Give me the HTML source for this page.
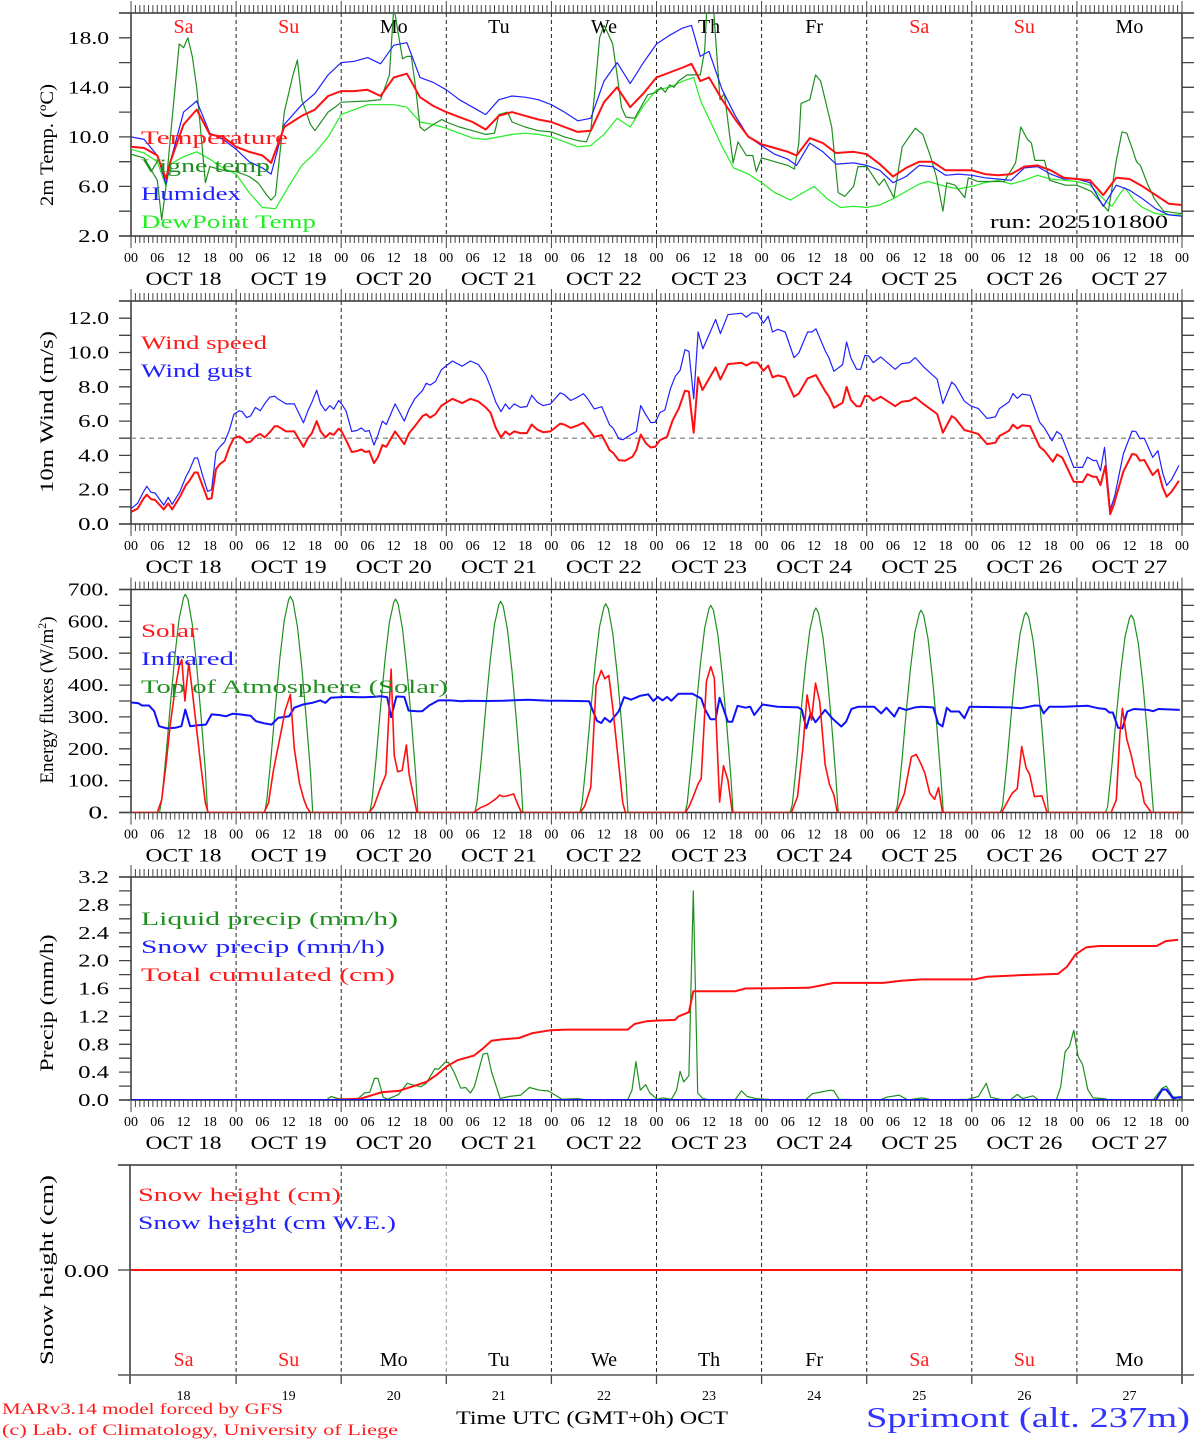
<!DOCTYPE html>
<html><head><meta charset="utf-8">
<style>
html,body{margin:0;padding:0;background:#fff;}
svg{display:block;font-family:"Liberation Serif","DejaVu Serif",serif;}
</style></head>
<body>
<svg id="chart" width="1194" height="1440" viewBox="0 0 1194 1440" xmlns="http://www.w3.org/2000/svg"></svg>
<script>
// ---------- DATA (hour since Oct 18 00 UTC, value) ----------
const days = ["18","19","20","21","22","23","24","25","26","27"];
const dayNames = ["Sa","Su","Mo","Tu","We","Th","Fr","Sa","Su","Mo"];
const hourTickLabels = ["00","06","12","18"];
const tempTicks = [2,6,10,14,18];
const windTicks = [0,2,4,6,8,10,12];
const energyTicks = [0,100,200,300,400,500,600,700];
const precipTicks = [0,0.4,0.8,1.2,1.6,2.0,2.4,2.8,3.2];

const temperature = [[0,9.2],[3,9.1],[6,8.5],[8,6.6],[9,8.0],[12,11.0],[15,12.2],[18,10.2],[21,10.0],[24,9.2],[27,8.8],[30,8.5],[32,7.9],[35,10.8],[39,11.7],[42,12.2],[45,13.3],[48,13.7],[51,13.7],[54,13.8],[57,13.3],[60,14.8],[63,15.1],[66,13.2],[69,12.5],[72,12.0],[75,11.6],[78,11.2],[81,10.6],[84,11.7],[87,12.0],[90,11.7],[93,11.4],[96,11.2],[99,10.8],[102,10.4],[105,10.5],[108,12.8],[111,14.0],[114,12.4],[117,13.5],[120,14.8],[123,15.2],[126,15.6],[128,15.9],[130,14.5],[132,14.8],[135,13.0],[138,11.4],[141,10.0],[144,9.4],[147,9.1],[150,8.8],[152,8.5],[155,9.9],[158,9.5],[161,8.7],[165,8.8],[168,8.6],[171,7.8],[174,6.8],[177,7.5],[180,8.0],[183,8.0],[186,7.3],[189,7.3],[192,7.3],[195,7.0],[198,6.9],[201,7.0],[204,7.6],[207,7.7],[210,7.3],[213,6.7],[216,6.6],[219,6.5],[222,5.3],[225,6.7],[228,6.6],[231,6.0],[234,5.3],[237,4.6],[240,4.5]];
const humidex = [[0,10.0],[3,9.8],[6,8.5],[8,6.2],[9,8.0],[12,12.0],[15,12.9],[18,10.3],[21,9.8],[24,9.0],[27,8.0],[30,7.5],[32,7.0],[35,11.0],[39,12.6],[42,13.5],[45,15.0],[48,16.0],[51,16.1],[54,16.4],[57,15.9],[60,17.4],[63,17.6],[66,14.8],[69,14.4],[72,13.8],[75,13.0],[78,12.4],[81,11.8],[84,13.0],[87,13.3],[90,13.2],[93,13.0],[96,12.6],[99,12.0],[102,11.3],[105,11.5],[108,14.5],[111,16.0],[114,14.3],[117,16.0],[120,17.5],[123,18.2],[126,18.8],[128,19.0],[130,16.5],[132,16.9],[135,13.8],[138,11.7],[141,10.0],[144,9.3],[147,8.6],[150,8.2],[152,7.7],[155,9.5],[158,8.8],[161,7.8],[165,7.9],[168,7.7],[171,7.3],[174,6.3],[177,6.8],[180,7.7],[183,7.6],[186,6.9],[189,7.0],[192,6.9],[195,6.7],[198,6.6],[201,6.5],[204,7.5],[207,7.6],[210,7.0],[213,6.6],[216,6.6],[219,6.3],[222,4.4],[225,6.1],[228,5.7],[231,5.0],[234,4.2],[237,3.7],[240,3.6]];
const vigneTemp = [[0,8.6],[3,8.3],[6,6.5],[7,3.3],[8,6.0],[9,10.0],[11,17.5],[12,17.2],[13,18.0],[14,16.5],[15,14.0],[17,6.3],[18,7.6],[21,7.3],[24,7.2],[27,6.8],[29,6.3],[31,5.3],[32,4.9],[33,5.3],[35,12.0],[37,15.0],[38,16.2],[39,13.0],[41,11.0],[42,10.5],[44,11.5],[45,12.0],[47,12.5],[48,12.8],[54,12.9],[57,13.0],[59,15.0],[60,20.5],[62,16.3],[63,16.5],[64,16.5],[65,14.0],[66,10.8],[67,10.5],[69,11.0],[71,11.4],[72,11.2],[75,10.8],[78,10.5],[81,10.2],[83,10.3],[84,11.8],[86,12.0],[87,11.2],[90,10.8],[93,10.5],[96,10.4],[99,10.0],[102,9.7],[104,9.6],[105,10.5],[106,14.0],[107,18.0],[108,19.0],[109,18.3],[110,17.5],[111,15.0],[112,12.4],[113,11.6],[115,11.5],[118,13.4],[120,13.6],[121,14.0],[122,13.6],[123,14.2],[124,14.0],[125,14.5],[127,15.0],[130,15.0],[131,17.0],[131.5,20.5],[133,20.5],[134.5,13.0],[135.5,13.5],[137.5,7.9],[138.6,9.6],[140.5,8.5],[142,8.5],[142.8,7.2],[144,8.3],[147,8.0],[150,7.7],[151.5,7.4],[152.5,9.5],[153,12.7],[155,13.0],[156.3,15.0],[157.5,14.5],[160,10.8],[161.5,5.5],[163,5.2],[165,6.0],[166,7.6],[168,7.6],[170.8,6.1],[172,6.6],[174.2,5.1],[176.1,9.2],[179.1,10.7],[180.8,10.2],[182.6,8.4],[183.9,6.8],[185.4,4.0],[186.3,6.3],[188.2,6.1],[190.4,5.1],[191.2,6.7],[193.4,6.4],[199.4,6.4],[202,7.9],[203.2,10.8],[204.7,9.8],[205.6,9.5],[206.4,8.1],[208.6,8.1],[209.8,6.5],[213.4,6.1],[216,6.1],[219.3,5.6],[223.2,4.0],[225,8.1],[226.3,10.4],[227.4,10.3],[228.5,9.2],[229.6,8.0],[230.5,7.7],[232,6.3],[233.7,5.0],[235.8,4.0],[240,3.8]];
const dewPoint = [[0,9.0],[3,8.7],[6,8.0],[8,6.0],[9,7.8],[12,8.4],[15,8.8],[18,8.2],[21,7.5],[24,7.0],[27,5.5],[30,4.3],[33,4.2],[36,6.0],[39,7.7],[42,8.7],[45,10.0],[48,11.8],[51,12.2],[54,12.6],[57,12.6],[60,12.6],[63,12.4],[66,11.2],[69,11.0],[72,10.7],[75,10.3],[78,9.9],[81,9.8],[84,10.0],[87,10.2],[90,10.3],[93,10.2],[96,10.0],[99,9.6],[102,9.2],[105,9.3],[108,10.2],[111,11.5],[114,10.8],[117,12.5],[120,13.8],[123,14.0],[126,14.5],[128.5,14.8],[130,13.0],[131,12.2],[135,9.2],[137.6,7.5],[141,7.0],[144,6.3],[147,5.5],[150.6,4.9],[153,5.4],[156,6.0],[159,5.0],[162,4.3],[165,4.4],[168,4.3],[171,4.5],[174,5.0],[177,5.6],[180,6.2],[182,6.4],[186,6.0],[189,5.8],[192,6.0],[195,6.3],[198,6.5],[201,6.2],[204,6.5],[207,6.9],[210,6.6],[213,6.5],[216,6.4],[219,6.1],[222,5.0],[224,4.4],[226,5.5],[227,5.9],[229,4.9],[231,4.3],[234,3.8],[237,3.7],[240,3.7]];

const windSpeed = [[0,0.7],[1.5,0.9],[2.9,1.5],[3.6,1.7],[4.6,1.45],[5.5,1.4],[7.5,0.85],[8.5,1.2],[9.4,0.85],[11.2,1.6],[12.6,2.3],[13.3,2.5],[14.5,3.0],[15.2,3.0],[16.4,2.2],[17.5,1.45],[18.4,1.5],[19.4,3.2],[20.3,3.5],[21.4,3.7],[22.5,4.5],[23.5,5.0],[24.7,5.1],[25.4,5.0],[26.4,4.75],[27.3,4.8],[28.4,5.1],[29.5,5.25],[30.5,5.05],[31.7,5.35],[32.8,5.7],[33.5,5.7],[35.4,5.4],[37.3,5.4],[39.4,4.5],[40.4,5.0],[41.3,5.3],[42.4,6.0],[43.3,5.4],[44.4,5.05],[45.4,5.3],[46.3,5.2],[47.4,5.55],[48.1,5.4],[49.1,4.9],[50.4,4.2],[51.6,4.25],[52.6,4.35],[53.5,4.2],[54.4,4.25],[55.5,3.55],[56.4,3.9],[57.4,4.6],[58.3,4.5],[60.3,5.4],[62.4,4.65],[63.5,5.3],[64.8,5.7],[66.6,6.3],[67.4,6.4],[68.3,6.2],[69.5,6.4],[70.9,6.9],[73.4,7.3],[75.6,7.05],[77.5,7.3],[79.3,7.15],[81,6.8],[82.1,6.5],[83.3,5.6],[84.5,5.05],[85.5,5.4],[86.4,5.2],[87.5,5.4],[88.9,5.3],[90.4,5.3],[91.5,5.8],[92.8,5.5],[94.1,5.35],[95.8,5.4],[98,5.85],[98.9,5.8],[100.4,5.6],[102,5.75],[103.3,5.9],[104.3,5.6],[105.8,5.08],[107.5,5.18],[109.3,4.3],[110.1,4.15],[111.4,3.72],[112.8,3.69],[114.5,3.92],[115.4,4.31],[116.4,5.22],[117.6,4.7],[118.7,4.46],[119.7,4.5],[120.8,4.89],[122.4,5.08],[123.7,6.05],[125.1,6.74],[126.5,7.77],[127.4,7.71],[128.5,5.32],[129.5,8.55],[130.5,7.81],[133.5,9.13],[134.6,8.43],[136.3,9.32],[139.4,9.4],[140.5,9.24],[141.8,9.42],[143.1,9.4],[144.4,8.93],[145.5,9.24],[146.5,8.55],[147.7,8.66],[149.4,8.55],[151.4,7.42],[152.5,7.61],[154.5,8.49],[156.4,8.68],[158.6,7.71],[159.4,7.42],[160.5,6.78],[162.5,7.07],[163.4,8.0],[164.4,7.22],[165.7,6.87],[166.6,6.87],[167.6,7.46],[168.4,7.46],[169.5,7.18],[171.2,7.42],[174.5,6.87],[176,7.13],[177.8,7.18],[179.1,7.38],[181,6.99],[184.1,6.41],[185.4,5.32],[187.4,6.29],[188.2,6.16],[190.3,5.48],[191.7,5.38],[193.5,5.24],[195.5,4.66],[197.4,4.74],[198.3,5.13],[200.5,5.44],[201.4,5.79],[202.4,5.57],[203.5,5.75],[205.3,5.71],[207.5,4.5],[208.6,4.27],[210.5,3.63],[211.5,4.06],[212.7,3.86],[215.3,2.46],[217.3,2.44],[218.4,2.91],[219.7,2.75],[220.5,2.75],[221.4,2.27],[222.5,3.39],[223.6,0.58],[224.4,1.11],[226.6,3.05],[228.6,4.08],[229.5,4.04],[230.4,3.69],[231.4,3.73],[233.3,2.85],[234.5,3.18],[235.6,2.13],[236.5,1.59],[237.6,1.88],[239.3,2.52]];
const windGust = [[0,0.9],[1.5,1.2],[2.9,1.9],[3.6,2.2],[4.6,1.85],[5.5,1.8],[7.5,1.1],[8.5,1.55],[9.4,1.15],[11.2,1.9],[12.6,2.8],[13.3,3.1],[14.5,3.85],[15.2,3.85],[16.4,2.8],[17.5,1.9],[18.4,2.0],[19.4,4.2],[20.3,4.5],[21.4,4.8],[22.5,5.5],[23.5,6.4],[24.7,6.6],[25.4,6.55],[26.4,6.2],[27.3,6.3],[28.4,6.8],[29.5,6.6],[30.5,7.0],[31.7,7.4],[32.8,7.45],[33.5,7.3],[35.4,7.0],[37.3,7.0],[39.4,5.9],[40.4,6.6],[41.3,7.1],[42.4,7.8],[43.3,7.0],[44.4,6.6],[45.4,6.9],[46.3,6.7],[47.4,7.2],[48.1,7.0],[49.1,6.6],[50.4,5.4],[51.6,5.45],[52.6,5.6],[53.5,5.4],[54.4,5.45],[55.5,4.6],[56.4,5.2],[57.4,6.0],[58.3,5.8],[60.3,7.0],[62.4,6.0],[63.5,6.7],[64.8,7.3],[66.6,7.8],[67.4,8.2],[68.3,8.1],[69.5,8.3],[70.9,9.0],[73.4,9.5],[75.6,9.2],[77.5,9.5],[79.3,9.3],[81,8.7],[82.1,8.0],[83.3,7.1],[84.5,6.55],[85.5,7.0],[86.4,6.7],[87.5,7.0],[88.9,6.8],[90.4,6.85],[91.5,7.5],[92.8,7.1],[94.1,6.9],[95.8,7.0],[98,7.65],[98.9,7.55],[100.4,7.2],[102,7.4],[103.3,7.6],[104.3,7.3],[105.8,6.71],[107.5,6.84],[109.3,5.78],[110.1,5.59],[111.4,4.97],[112.3,4.91],[114.1,5.2],[115.4,5.4],[116.4,6.9],[117.6,6.36],[118.7,5.91],[119.7,5.93],[120.8,6.5],[121.9,6.64],[123.2,7.9],[124.3,8.61],[125.4,8.96],[126.5,10.16],[127.4,10.06],[128.5,7.3],[129.5,11.19],[130.6,10.22],[133.5,11.92],[134.6,11.1],[136.3,12.2],[139.4,12.29],[140.5,12.06],[141.8,12.31],[143.1,12.29],[144.4,11.71],[145.5,12.12],[146.5,11.19],[147.7,11.35],[149.4,11.19],[151.4,9.7],[152.5,9.97],[154.5,11.19],[155.5,11.19],[156.4,11.38],[158.6,10.06],[159.4,9.68],[160.5,8.9],[162.5,9.29],[163.4,10.61],[164.4,9.68],[165.7,9.02],[166.6,9.02],[167.6,9.83],[168.4,9.8],[169.5,9.41],[171.2,9.74],[174.5,9.02],[176,9.35],[177.8,9.41],[179.1,9.7],[181,9.16],[184.1,8.44],[185.4,7.02],[187.4,8.28],[188.2,8.09],[190.3,7.16],[191.7,6.89],[193.5,6.73],[195.5,6.15],[197.4,6.25],[198.3,6.73],[200.5,7.12],[201.4,7.61],[202.4,7.32],[203.5,7.57],[205.3,7.5],[207.5,5.93],[208.6,5.59],[210.3,4.85],[211.4,5.39],[212.4,5.2],[215.3,3.3],[217.3,3.3],[218.4,3.9],[219.7,3.7],[220.5,3.7],[221.4,3.1],[222.3,4.47],[223.6,0.83],[224.6,1.6],[226.6,4.08],[228.6,5.42],[229.5,5.38],[230.4,4.97],[231.4,5.0],[233.3,3.88],[234.5,4.27],[235.6,2.97],[236.5,2.25],[237.6,2.58],[239.3,3.41]];

const solar = [[0,0],[6,0],[7,40],[8,150],[9,280],[10,380],[11,460],[11.6,480],[12.3,350],[13.2,470],[14,380],[15,260],[16,140],[17,30],[17.6,0],[30.4,0],[31.4,30],[32.5,130],[33.5,200],[34.5,270],[35.2,320],[36.4,370],[37.3,200],[38.5,90],[39.5,40],[40.2,15],[41,0],[54.4,0],[55.5,20],[56.9,75],[58.2,120],[59.4,450],[60.1,180],[60.9,128],[61.9,132],[62.9,212],[63.5,120],[65,20],[65.3,0],[78.2,0],[79.8,15],[81.5,25],[82.5,35],[83.5,45],[84.2,55],[85,50],[85.8,52],[87.4,58],[88.2,30],[89,5],[89.5,0],[102.6,0],[103.6,20],[105,80],[106.2,400],[107.4,446],[108.2,420],[109.1,430],[110,330],[111,200],[112.3,30],[112.9,0],[126.6,0],[127.5,20],[128.4,50],[129.5,90],[130.2,106],[131.4,411],[132.4,458],[133.2,422],[134.4,33],[135.3,147],[136.3,102],[137.3,0],[150.8,0],[152.2,50],[153.4,200],[154.4,369],[155.4,290],[156.3,406],[157.3,346],[158.5,151],[159.5,88],[160.5,55],[161.3,0],[174.8,0],[176.6,60],[178.2,175],[179.3,182],[180.3,155],[181.3,123],[182.4,60],[183.5,41],[184.4,78],[185.3,0],[198.8,0],[200,30],[201.2,60],[202.4,75],[203.4,207],[204.4,140],[205.2,120],[206.3,50],[208,52],[209.2,0],[223.8,0],[225,40],[225.8,243],[226.4,327],[227.4,230],[228.4,180],[229.5,112],[230.5,95],[231.4,30],[233,0],[240,0]];
const infrared = [[0,345],[0.5,345],[1.7,343],[2.5,336],[4.1,336],[5.3,318],[6.4,271],[8.2,264],[10.1,266],[11.5,271],[12.4,323],[13.5,271],[15.3,274],[17.1,276],[18.4,308],[20.1,306],[21.7,302],[23.2,310],[24.9,308],[27.3,304],[28.5,287],[30.4,280],[32.1,276],[33.6,297],[36.1,302],[37.3,329],[39.3,339],[41.3,344],[43.2,352],[44.4,344],[45.6,360],[48.9,363],[53,362],[55.4,363],[56.9,365],[58.5,362],[59.4,299],[60.6,364],[62.4,363],[63.4,320],[65.3,318],[66.5,318],[68.1,336],[70.2,352],[73,352],[75.4,349],[77,351],[81,350],[85,351],[90.6,354],[95.4,351],[98.6,351],[104.6,349],[106.4,288],[107.4,281],[108.2,297],[109.4,284],[111.4,318],[112.6,362],[114.2,354],[116.2,366],[118.1,371],[119.3,350],[120.3,363],[121.4,352],[122.4,363],[123.4,351],[125,373],[128.2,373],[130.2,358],[131,326],[132.3,293],[133.5,293],[134.4,360],[136.3,285],[137.3,285],[138.5,335],[140.3,329],[141.4,332],[142.3,306],[144.2,339],[147.6,332],[152.4,330],[153.2,322],[154.2,264],[155.2,311],[156.3,283],[158.5,322],[160.1,296],[162.2,270],[163.3,285],[164.5,325],[166.1,332],[169.7,332],[171.3,311],[172.5,329],[174.3,301],[175.4,329],[177,322],[179,330],[180.6,332],[183.2,330],[184.3,280],[185.3,270],[186.3,329],[187.2,317],[189.1,317],[190.3,296],[191.5,332],[196.9,331],[200.8,330],[203.2,327],[206.4,336],[207.6,335],[208.4,311],[209.7,332],[212.9,332],[218.5,335],[220.9,327],[222.5,325],[223.4,314],[224.2,314],[225.4,266],[226.4,264],[227.5,317],[229,325],[232.2,322],[233.4,318],[234.6,325],[239.5,322]];
const toaHours = [6.5,7,8,9,10,11,12,12.4,13,14,15,16,17,17.5];
const toaDay18 = [0,40,180,340,490,610,675,685,670,590,460,300,130,0];
const toaDay19 = [0,38,176,336,485,604,668,678,663,584,455,296,126,0];
const toaDay20 = [0,35,172,332,479,597,660,670,655,577,449,292,122,0];
const toaDay21 = [0,32,168,328,474,591,653,663,648,571,444,288,118,0];
const toaDay22 = [0,30,165,323,468,584,645,655,640,564,438,283,114,0];
const toaDay23 = [0,28,162,320,464,579,640,650,635,559,434,280,110,0];
const toaDay24 = [0,25,158,316,458,572,632,642,627,552,428,275,105,0];
const toaDay25 = [0,22,155,312,453,566,625,635,620,546,423,271,100,0];
const toaDay26 = [0,20,151,308,448,560,618,628,613,540,418,267,95,0];
const toaDay27 = [0,18,148,304,442,553,610,620,605,533,412,262,90,0];

const liquidPrecip = [[0,0],[44.6,0],[45.7,0.05],[47.3,0.02],[51.7,0.01],[53.3,0.1],[54.5,0.11],[55.6,0.31],[56.4,0.31],[57.6,0.04],[58.6,0.01],[61.1,0.08],[63.1,0.24],[64.2,0.22],[66.2,0.19],[67.4,0.24],[69.4,0.45],[70.2,0.44],[71.7,0.54],[72.5,0.54],[73.7,0.41],[75.3,0.17],[76.4,0.18],[77.5,0.1],[78.4,0.19],[80.4,0.66],[81.4,0.67],[82.3,0.41],[84.3,0.02],[86.3,0.05],[89,0.07],[91,0.18],[93.3,0.14],[95.3,0.13],[98.4,0.01],[102,0.02],[104,0],[113.4,0],[114.4,0.14],[115.3,0.55],[116.3,0.14],[117.5,0.22],[118.5,0.1],[120.2,0.01],[121.4,0.03],[123.4,0.01],[124.6,0.14],[125.4,0.41],[126.2,0.26],[127.4,0.35],[128.4,3.0],[129.4,0.1],[130.6,0.02],[132.3,0],[137.9,0],[139.4,0.13],[140.7,0.05],[142.7,0.02],[145.2,0.01],[147.6,0],[154,0],[155.6,0.09],[158,0.12],[159.7,0.14],[160.5,0.13],[161.7,0.01],[171,0],[172.6,0.04],[175.4,0.07],[177.4,0],[180.6,0.03],[183,0],[191.1,0.01],[193.5,0.05],[195.3,0.24],[196.3,0.04],[198.4,0.01],[200.8,0],[202.4,0.08],[203.6,0.02],[206,0.06],[207.2,0],[211.3,0],[212.3,0.19],[213.3,0.69],[214.3,0.77],[215.3,1.0],[216.3,0.62],[217.3,0.51],[218.5,0.15],[219.7,0.03],[222.2,0.02],[223.4,0],[233.4,0],[235.5,0.17],[236.4,0.2],[237.9,0.05],[239.1,0.03],[240,0]];
const snowPrecip = [[0,0],[234,0],[235.5,0.15],[236.4,0.15],[238,0.02],[239.1,0.04],[240,0.04]];
const totalCumulated = [[0,0],[45.4,0],[52.5,0.02],[57.2,0.11],[61.1,0.13],[65,0.21],[67.4,0.26],[69.8,0.36],[72.1,0.48],[74.5,0.57],[78.4,0.64],[80.4,0.74],[82.3,0.85],[84.7,0.87],[88.6,0.89],[91.7,0.96],[95.7,1.0],[99.6,1.01],[113.4,1.01],[115,1.09],[117.7,1.13],[119.9,1.14],[124.2,1.15],[125,1.2],[127.4,1.26],[128.4,1.56],[137.9,1.56],[140.3,1.6],[154.8,1.61],[160.5,1.68],[171.7,1.68],[175.8,1.71],[180.6,1.73],[192.7,1.73],[195.5,1.77],[202.4,1.79],[211.7,1.81],[213.7,1.91],[215.7,2.09],[218.1,2.19],[221,2.21],[234.2,2.21],[236.3,2.28],[239.1,2.3]];
const snowHeight = [[0,0],[240,0]];

// ---------- DRAWING ----------
const svg = document.getElementById('chart');
const NS = "http://www.w3.org/2000/svg";
const X0 = 131, X1 = 1182;
function xOf(h){ return X0 + h*(X1-X0)/240; }
function mk(tag, attrs, parent){ const e=document.createElementNS(NS,tag); for(const k in attrs) e.setAttribute(k,attrs[k]); (parent||svg).appendChild(e); return e; }
function txt(s, x, y, opts, parent){
  const e = mk('text', Object.assign({x:x,y:y,'font-size':opts.size||18,fill:opts.fill||'#000','text-anchor':opts.anchor||'start'}, opts.extra||{}), parent);
  if(opts.len){ e.setAttribute('textLength', opts.len); e.setAttribute('lengthAdjust','spacingAndGlyphs'); }
  e.textContent = s; return e;
}
const panels = [
  {key:'temp', top:13, bottom:236, min:2, max:20},
  {key:'wind', top:301, bottom:524, min:0, max:13},
  {key:'energy', top:589.5, bottom:812.5, min:0, max:700},
  {key:'precip', top:877, bottom:1100, min:0, max:3.2}
];
function yScale(p){ return v => p.bottom - (v-p.min)*(p.bottom-p.top)/(p.max-p.min); }

function frame(p, topTicks, bottomLabels, name){
  const g = mk('g',{});
  
  
  // day boundaries
  for(let d=1; d<10; d++){
    const l = mk('line',{x1:xOf(d*24),x2:xOf(d*24),y1:p.top,y2:p.bottom,stroke:'#222','stroke-width':1,'stroke-dasharray':'4,3'},g);
    
    
  }
  // frame
  mk('line',{x1:X0,x2:X0,y1:p.top,y2:p.bottom+(bottomLabels?0:0),stroke:'#333','stroke-width':1.5},g);
  mk('line',{x1:X1,x2:X1,y1:p.top,y2:p.bottom,stroke:'#333','stroke-width':1.5},g);
  mk('line',{x1:X0-12,x2:X1+12,y1:p.top,y2:p.top,stroke:'#333','stroke-width':1.5},g);
  mk('line',{x1:X0-12,x2:X1+12,y1:p.bottom,y2:p.bottom,stroke:'#333','stroke-width':1.5},g);
  // hourly ticks
  let d1='';
  for(let h=0; h<=240; h++){
    const x=xOf(h).toFixed(1);
    const major = h%24===0;
    if(topTicks) d1 += `M${x} ${p.top} V${p.top-(major?12:8)} `;
    if(bottomLabels) d1 += `M${x} ${p.bottom} V${p.bottom+(major?12:7)} `;
  }
  mk('path',{d:d1,stroke:'#444','stroke-width':1,fill:'none'},g);
  if(bottomLabels){
    for(let h=0; h<=240; h+=6){
      const t = txt(hourTickLabels[(h/6)%4], xOf(h), p.bottom+26, {size:14, anchor:'middle'}, g);
      
      
    }
    days.forEach((d,i)=>{
      const t = txt('OCT '+d, xOf(i*24+12), p.bottom+49, {size:19, anchor:'middle', len:76}, g);
      
      
    });
  }
  return g;
}
function yTicks(p, step, labels, fmt, name){
  const ys = yScale(p);
  const g = mk('g',{});
  
  
  let d='';
  for(let v=p.min; v<=p.max+1e-9; v+=step){
    const y=ys(v).toFixed(1);
    d += `M${X0-12} ${y} H${X0} M${X1} ${y} H${X1+12} `;
  }
  mk('path',{d:d,stroke:'#444','stroke-width':1.3,fill:'none'},g);
  labels.forEach(v=>{
    const s = fmt(v);
    const t = txt(s, 109, ys(v)+6, {size:18, anchor:'end', len:s.length*10.3}, g);
    
    
  });
}
function series(p, data, color, width, name, clip){
  const ys = yScale(p);
  const d = data.map((pt,i)=>(i?'L':'M')+xOf(pt[0]).toFixed(1)+' '+ys(pt[1]).toFixed(1)).join(' ');
  const e = mk('path',{d:d,stroke:color,'stroke-width':width,fill:'none','stroke-linejoin':'round'});
  if(clip) e.setAttribute('clip-path','url(#'+clip+')');
  
  
  return e;
}
function legend(items, x, y0, dy){
  items.forEach((it,i)=>{
    const t = txt(it[0], x, y0+i*dy, {size:19, fill:it[1], len:it[2]});
    
    
  });
}
function yTitle(s, cy, len){
  const t = txt(s, 0, 0, {size:19, anchor:'middle', len:len, extra:{transform:`translate(53,${cy}) rotate(-90)`}});
  
  
  return t;
}
function dayNameLabels(y){
  dayNames.forEach((n,i)=>{
    const t = txt(n, xOf(i*24+12), y, {size:20, anchor:'middle', fill:(n==='Sa'||n==='Su')?'#ff1a1a':'#000'});
    
    
  });
}

// clip paths
const defs = mk('defs',{});
panels.forEach(p=>{
  const c = mk('clipPath',{id:'clip-'+p.key},defs);
  mk('rect',{x:X0,y:p.top,width:X1-X0,height:p.bottom-p.top},c);
});

// ----- Panel 1: temperature -----
const P1 = panels[0];
frame(P1, true, true, 'temperature-panel');
yTicks(P1, 2, tempTicks, v=>v.toFixed(1), 'temperature-y-axis');
dayNameLabels(33);
series(P1, dewPoint, '#22ee22', 1.2, 'dewpoint-line', 'clip-temp');
series(P1, vigneTemp, '#1f8f1f', 1.2, 'vigne-temp-line', 'clip-temp');
series(P1, humidex, '#2020ff', 1.2, 'humidex-line', 'clip-temp');
series(P1, temperature, '#ff1010', 2, 'temperature-line', 'clip-temp');
legend([['Temperature','#ff1a1a',147],['Vigne temp','#1f8f1f',129],['Humidex','#2020ff',100],['DewPoint Temp','#22ee22',175]], 141, 144, 28);
{ const t = txt('run: 2025101800', 1168, 228, {size:19, anchor:'end', len:178});   }
yTitle('2m Temp. (ºC)', 145, 122);

// ----- Panel 2: wind -----
const P2 = panels[1];
frame(P2, true, true, 'wind-panel');
yTicks(P2, 1, windTicks, v=>v.toFixed(1), 'wind-y-axis');
{ const ys=yScale(P2); const l=mk('line',{x1:X0,x2:X1,y1:ys(5),y2:ys(5),stroke:'#999','stroke-width':1.5,'stroke-dasharray':'5,4'});   }
series(P2, windGust, '#2020ff', 1.2, 'wind-gust-line', 'clip-wind');
series(P2, windSpeed, '#ff1010', 2, 'wind-speed-line', 'clip-wind');
legend([['Wind speed','#ff1a1a',126],['Wind gust','#2020ff',111]], 141, 349, 28);
yTitle('10m Wind (m/s)', 412, 162);

// ----- Panel 3: energy -----
const P3 = panels[2];
frame(P3, true, true, 'energy-panel');
yTicks(P3, 50, energyTicks, v=>v+'.', 'energy-y-axis');
const toaDays = [toaDay18,toaDay19,toaDay20,toaDay21,toaDay22,toaDay23,toaDay24,toaDay25,toaDay26,toaDay27];
const toaSeries = [[0,0]];
toaDays.forEach((vals,d)=>{ toaHours.forEach((h,i)=>toaSeries.push([d*24+h, vals[i]])); });
toaSeries.push([240,0]);
series(P3, toaSeries, '#1f8f1f', 1.2, 'toa-solar-line', 'clip-energy');
series(P3, infrared, '#1010ff', 2, 'infrared-line', 'clip-energy');
series(P3, solar, '#ff1010', 1.6, 'solar-line', 'clip-energy');
legend([['Solar','#ff1a1a',57],['Infrared','#2020ff',93],['Top of Atmosphere (Solar)','#1f8f1f',307]], 141, 637, 28);
{ const t = yTitle('', 700, 242); t.removeAttribute('textLength');
  t.textContent='Energy fluxes (W/m';
  const s1 = mk('tspan',{'font-size':12,dy:-7},t); s1.textContent='2';
  const s2 = mk('tspan',{dy:7},t); s2.textContent=')'; }

// ----- Panel 4: precip -----
const P4 = panels[3];
frame(P4, true, true, 'precip-panel');
yTicks(P4, 0.2, precipTicks, v=>v.toFixed(1), 'precip-y-axis');
series(P4, liquidPrecip, '#1f8f1f', 1.2, 'liquid-precip-line', 'clip-precip');
series(P4, totalCumulated, '#ff1010', 2, 'total-cumulated-line', 'clip-precip');
series(P4, snowPrecip, '#1010ff', 2, 'snow-precip-line', 'clip-precip');
legend([['Liquid precip (mm/h)','#1f8f1f',257],['Snow precip (mm/h)','#2020ff',244],['Total cumulated (cm)','#ff1a1a',254]], 141, 925, 28);
yTitle('Precip (mm/h)', 1003, 137);

// ----- Panel 5: snow height -----
const P5 = {top:1165, bottom:1375};
{
  const g = mk('g',{});
  
  
  for(let d=1; d<10; d++){
    mk('line',{x1:xOf(d*24),x2:xOf(d*24),y1:P5.top,y2:P5.bottom,stroke:d===3?'#999':'#222','stroke-width':1,'stroke-dasharray':'4,3'},g);
    mk('line',{x1:xOf(d*24),x2:xOf(d*24),y1:P5.bottom,y2:P5.bottom+9,stroke:'#444','stroke-width':1.3},g);
  }
  mk('line',{x1:X0-1,x2:X0-1,y1:P5.top,y2:P5.bottom+9,stroke:'#333','stroke-width':1.5},g);
  mk('line',{x1:X1,x2:X1,y1:P5.top,y2:P5.bottom+9,stroke:'#333','stroke-width':1.5},g);
  mk('line',{x1:118,x2:1194,y1:P5.top,y2:P5.top,stroke:'#333','stroke-width':1.5},g);
  mk('line',{x1:118,x2:1194,y1:P5.bottom,y2:P5.bottom,stroke:'#555','stroke-width':1.5},g);
  mk('line',{x1:118,x2:X0,y1:1270,y2:1270,stroke:'#444','stroke-width':1.3},g);
  const t = txt('0.00', 109, 1277, {size:18, anchor:'end', len:45}, g);
  
  
  days.forEach((d,i)=>{
    const n = txt(d, xOf(i*24+12), 1400, {size:14, anchor:'middle'}, g);
    
    
  });
}
{ const sh = snowHeight.map((pt,i)=>(i?'L':'M')+xOf(pt[0]).toFixed(1)+' '+(1270-pt[1]*40)); const e=mk('path',{d:sh.join(' '),stroke:'#ff1010','stroke-width':2,fill:'none'});   }
dayNameLabels(1366);
legend([['Snow height (cm)','#ff1a1a',203],['Snow height (cm W.E.)','#2020ff',258]], 138, 1201, 28);
yTitle('Snow height (cm)', 1270, 190);

// ----- Footer -----
{ let t = txt('MARv3.14 model forced by GFS', 2, 1414, {size:16, fill:'#ff1a1a', len:281});  
  t = txt('(c) Lab. of Climatology, University of Liege', 2, 1435, {size:16, fill:'#ff1a1a', len:396});  
  t = txt('Time UTC (GMT+0h) OCT', 456, 1424, {size:19, len:272});  
  t = txt('Sprimont (alt. 237m)', 1190, 1427, {size:28, fill:'#3333ff', anchor:'end', len:324});   }
</script>
</body></html>
